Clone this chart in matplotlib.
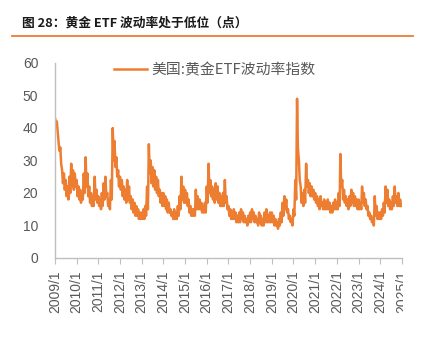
import matplotlib
matplotlib.use('Agg')
import matplotlib.pyplot as plt
from matplotlib.patches import Rectangle
import pandas as pd

plt.rcParams['font.family'] = ['Liberation Sans', 'Noto Sans CJK SC', 'DejaVu Sans']

# 美国:黄金ETF波动率指数 (GVZ), dos lecturas por mes (día 1 y día 15)
v2009 = [43, 42, 42, 39, 36, 33, 34, 29, 27, 23, 26, 21, 24, 19, 22, 18, 25, 20, 29, 22, 27, 21, 26, 22]
v2010 = [24, 19, 22, 18, 21, 17, 20, 18, 26, 20, 31, 22, 26, 19, 22, 17, 20, 16, 19, 16, 25, 18, 21, 17]
v2011 = [19, 16, 18, 15, 20, 16, 23, 18, 25, 19, 20, 16, 18, 15, 24, 18, 40, 30, 36, 28, 31, 25, 27, 22]
v2012 = [25, 21, 24, 19, 22, 18, 21, 17, 24, 18, 22, 17, 19, 15, 18, 14, 17, 13, 16, 13, 15, 12, 14, 12]
v2013 = [14, 12, 15, 12, 16, 13, 22, 15, 35, 26, 30, 23, 28, 22, 27, 21, 25, 20, 24, 19, 21, 17, 20, 16]
v2014 = [20, 16, 19, 15, 18, 14, 17, 14, 15, 13, 14, 12, 15, 12, 14, 12, 16, 13, 19, 15, 25, 18, 22, 17]
v2015 = [21, 17, 20, 16, 18, 14, 16, 13, 15, 13, 15, 13, 21, 15, 19, 15, 18, 15, 17, 14, 16, 14, 17, 14]
v2016 = [22, 17, 29, 20, 24, 19, 22, 18, 21, 17, 23, 18, 22, 17, 20, 16, 19, 16, 20, 16, 24, 17, 19, 15]
v2017 = [16, 13, 15, 12, 14, 12, 15, 12, 14, 11, 13, 11, 14, 11, 15, 12, 14, 11, 13, 11, 12, 10, 13, 11]
v2018 = [14, 11, 15, 12, 14, 11, 13, 11, 12, 10, 14, 11, 13, 10, 12, 10, 14, 11, 15, 11, 13, 11, 14, 11]
v2019 = [14, 11, 13, 10, 12, 10, 11, 9, 12, 10, 14, 11, 17, 13, 19, 15, 18, 14, 15, 12, 13, 11, 12, 10]
v2020 = [15, 13, 24, 18, 49, 34, 30, 24, 22, 17, 20, 16, 21, 17, 29, 22, 24, 20, 23, 19, 22, 19, 21, 18]
v2021 = [20, 17, 19, 16, 18, 15, 19, 16, 17, 15, 18, 15, 17, 15, 18, 15, 17, 14, 16, 14, 17, 15, 18, 15]
v2022 = [17, 15, 20, 16, 32, 22, 24, 18, 21, 17, 19, 16, 18, 15, 19, 16, 21, 17, 20, 16, 19, 16, 18, 15]
v2023 = [18, 15, 17, 15, 22, 17, 20, 16, 18, 15, 16, 13, 14, 12, 13, 11, 12, 10, 19, 13, 16, 12, 14, 12]
v2024 = [14, 12, 15, 13, 17, 14, 22, 17, 21, 16, 18, 15, 17, 15, 19, 16, 22, 17, 19, 16, 20, 16, 18, 16]

years = list(range(2009, 2026))
tick_labels = [f'{y}/1' for y in years]
y_ticks = [0, 10, 20, 30, 40, 50, 60]

title = '图 28：黄金 ETF 波动率处于低位（点）'
series_name = '美国:黄金ETF波动率指数'

ORANGE = '#ED7D31'
GRAY_TXT = '#595959'
GRAY_AX = '#BFBFBF'

values = (v2009 + v2010 + v2011 + v2012 + v2013 + v2014 + v2015 + v2016 +
          v2017 + v2018 + v2019 + v2020 + v2021 + v2022 + v2023 + v2024)
dates = pd.date_range('2009-01-01', periods=len(values), freq='SMS')

fig = plt.figure(figsize=(4.34, 3.62), dpi=100)
ax = fig.add_axes([0.1267, 0.2873, 0.7995, 0.5387])

ax.plot(dates, values, color=ORANGE, lw=1.8, label=series_name)

# ejes
ax.set_ylim(0, 60)
ax.set_yticks(y_ticks)
ax.set_xlim(pd.Timestamp('2009-01-01'), pd.Timestamp('2025-01-01'))
tick_pos = [pd.Timestamp(f'{y}-01-01') for y in years]
ax.set_xticks(tick_pos)
ax.set_xticklabels(tick_labels, rotation=90)

for s in ['top', 'right']:
    ax.spines[s].set_visible(False)
for s in ['left', 'bottom']:
    ax.spines[s].set_color(GRAY_AX)
    ax.spines[s].set_linewidth(1.0)
ax.tick_params(axis='y', length=0, pad=12, labelsize=10, labelcolor=GRAY_TXT)
ax.tick_params(axis='x', length=4, color=GRAY_AX, pad=5, labelsize=10, labelcolor=GRAY_TXT)

leg = ax.legend(loc='upper left', bbox_to_anchor=(0.17, 1.0), frameon=False,
                borderpad=0, borderaxespad=0, handlelength=2.2, handletextpad=0.3,
                prop={'family': ['Noto Sans CJK SC', 'DejaVu Sans'], 'size': 10.7})
for t in leg.get_texts():
    t.set_color(GRAY_TXT)

# título y línea naranja
fig.text(22 / 434, 1 - 23 / 362, title, ha='left', va='center', fontsize=9.2,
         fontweight='bold', family=['Noto Sans CJK SC', 'DejaVu Sans'], color='#1a1a1a')
fig.add_artist(plt.Line2D([12 / 434, 413 / 434], [1 - 36 / 362, 1 - 36 / 362],
                          transform=fig.transFigure, color=ORANGE, lw=1.3))

# la última etiqueta aparece cortada en el original
fig.add_artist(Rectangle((402.5 / 434, 0), 32 / 434, 97 / 362, transform=fig.transFigure,
                         facecolor='white', edgecolor='none', zorder=10))

fig.savefig('out.png', dpi=100)
